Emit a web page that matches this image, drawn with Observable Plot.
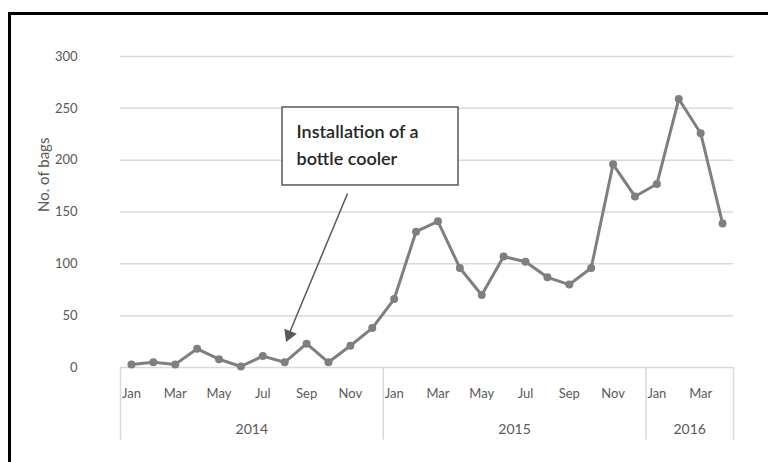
<!DOCTYPE html>
<html>
<head>
<meta charset="utf-8">
<script src="https://cdn.jsdelivr.net/npm/d3@7"></script>
<script src="https://cdn.jsdelivr.net/npm/@observablehq/plot@0.6"></script>
<style>
  html, body { margin: 0; padding: 0; background: #fff; overflow: hidden; }
  #wrap { position: relative; width: 768px; height: 462px; overflow: hidden; }
  #frame { position: absolute; left: 8px; top: 12px; width: 900px; height: 600px;
           border-left: 3px solid #000; border-top: 3px solid #000; pointer-events: none; }
  #chart svg { display: block; }
</style>
</head>
<body>
<div id="wrap">
  <div id="chart"></div>
  <div id="frame"></div>
</div>
<script>
// Monthly bag counts, Jan 2014 – Apr 2016
const monthLabels = [
  "Jan","Feb","Mar","Apr","May","Jun","Jul","Aug","Sep","Oct","Nov","Dec",
  "Jan","Feb","Mar","Apr","May","Jun","Jul","Aug","Sep","Oct","Nov","Dec",
  "Jan","Feb","Mar","Apr"
];
const bags = [
  3, 5, 3, 18, 8, 1, 11, 5, 23, 5, 21, 38,
  66, 131, 141, 96, 70, 107, 102, 87, 80, 96, 196, 165,
  177, 259, 226, 139
];
const years = ["2014", "2015", "2016"];
const yearStart = [0, 12, 24];
const yearEnd = [12, 24, 28];
const yTicks = [0, 50, 100, 150, 200, 250, 300];

// Callout placement, in month-index / bag units
const calloutText = "Installation of a\nbottle cooler";
const calloutBox = {x1: 6.9, x2: 14.94, y1: 175.6, y2: 250.8};
const calloutTextAt = {x: 7.54, y: 240};
const calloutArrow = {x1: 9.87, y1: 167.8, x2: 7.22, y2: 33.5};
const calloutTip = {x: 7.2, y: 31.5, angle: 202.6};

const series = bags.map((v, i) => ({i, v}));
const groups = years.map((y, k) => ({year: y, mid: (yearStart[k] + yearEnd[k]) / 2 - 0.5}));
const separators = [...yearStart.map(s => s - 0.5), yearEnd[yearEnd.length - 1] - 0.5];

const gray = "#595959";
const lineColor = "#7f7f7f";
const gridColor = "#d9d9d9";

const chart = Plot.plot({
  width: 768,
  height: 462,
  marginLeft: 120,
  marginRight: 35,
  marginTop: 56,
  marginBottom: 95,
  style: {fontFamily: "Lato, 'Open Sans', sans-serif", background: "#fff", color: gray},
  x: {type: "linear", domain: [-0.5, 27.5]},
  y: {domain: [0, 300]},
  marks: [
    Plot.ruleY(yTicks, {stroke: gridColor, strokeWidth: 1.5}),
    Plot.ruleX(separators, {y1: 0, y2: -70, stroke: gridColor, strokeWidth: 1.5}),
    Plot.axisY(yTicks, {tickSize: 0, tickPadding: 43, fontSize: 13, fill: gray, label: null}),
    Plot.axisX(d3.range(0, 28, 2), {
      tickSize: 0, tickPadding: 21, fontSize: 13, fill: gray, label: null,
      tickFormat: i => monthLabels[i]
    }),
    Plot.text(groups, {x: "mid", y: () => -60, text: "year", fontSize: 14, fill: gray}),
    Plot.text(["No. of bags"], {frameAnchor: "left", dx: -76, rotate: -90, fontSize: 15, fill: gray}),
    Plot.line(series, {x: "i", y: "v", stroke: lineColor, strokeWidth: 3}),
    Plot.dot(series, {x: "i", y: "v", r: 4, fill: lineColor}),
    Plot.rect([calloutBox], {x1: "x1", x2: "x2", y1: "y1", y2: "y2", fill: "#fff", stroke: gray, strokeWidth: 1.5}),
    Plot.text([calloutText], {
      x: () => calloutTextAt.x, y: () => calloutTextAt.y, text: d => d,
      textAnchor: "start", lineAnchor: "top", lineHeight: 1.5,
      fontSize: 18, fill: "#262626", fontWeight: 600
    }),
    Plot.link([calloutArrow], {x1: "x1", y1: "y1", x2: "x2", y2: "y2", stroke: gray, strokeWidth: 1.5}),
    Plot.dot([calloutTip], {x: "x", y: "y", symbol: "triangle", r: 5, fill: gray, rotate: "angle"})
  ]
});

document.getElementById("chart").append(chart);
</script>
</body>
</html>
